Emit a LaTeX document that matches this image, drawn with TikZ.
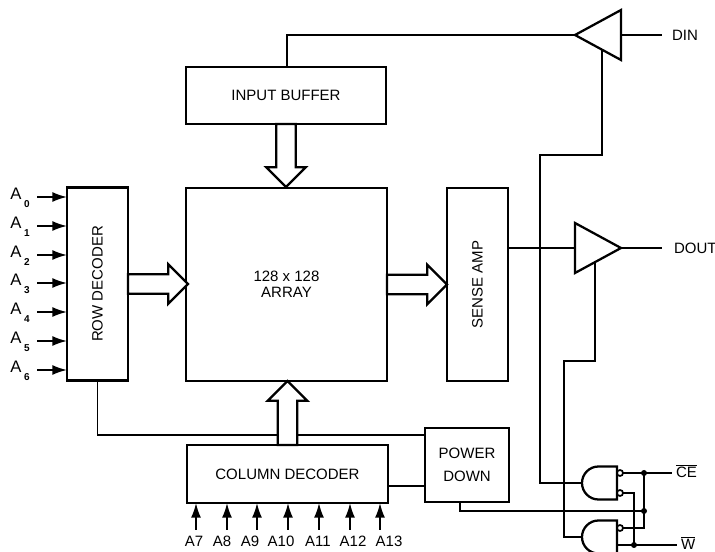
\documentclass[tikz,border=0pt]{standalone}
\usepackage{fontspec}
\usepackage{graphicx}
\setmainfont{Liberation Sans}
\usetikzlibrary{arrows.meta, shapes.geometric, shapes.arrows}

\begin{document}
\begin{tikzpicture}[x=0.75pt, y=-0.75pt, font=\fontsize{11.25}{12}\selectfont,
        box/.style={draw, line width=1.7pt, inner sep=0pt, outer sep=0pt, align=center},
        wire/.style={line width=1.3pt},
        sigarrow/.style={line width=1.3pt, -{Latex[length=11pt, width=7.5pt]}},
        fatarrow/.style={draw, fill=white, line width=1.7pt, shape=single arrow, anchor=tail,
                    inner xsep=0pt, inner ysep=6.5pt, outer sep=0pt,
                    single arrow head extend=7.5pt, single arrow tip angle=90,
                    single arrow head indent=0pt},
        bufgate/.style={draw, fill=white, line width=1.7pt, shape=isosceles triangle, anchor=apex,
                    isosceles triangle stretches, inner sep=0pt, outer sep=0pt,
                    minimum width=37.5pt, minimum height=34.5pt},
        nandgate/.pic={\draw[line width=1.7pt] (35,-16.5) -- (16.5,-16.5) arc (270:90:16.5) -- (35,16.5) -- cycle;
                    \coordinate (-out) at (0,0);},
        bubble/.style={draw, fill=white, circle, line width=1.3pt, inner sep=0pt, outer sep=0pt,
                    minimum size=4.5pt},
        pinlabel/.style={inner ysep=0pt, inner xsep=7.5pt, outer sep=0pt, anchor=west},
        dot/.style={circle, fill, inner sep=0pt, minimum size=4.5pt}]
      \useasboundingbox (0,0) rectangle (715,552);

      \node[box, minimum width=45.75pt, minimum height=144.75pt] (rowdec) at (97.5,284) {\rotatebox{90}{ROW DECODER}};
      \node[box, minimum width=150.75pt, minimum height=144.75pt] (array) at (286.5,284.5) {128 x 128\\ARRAY};
      \node[box, minimum width=150pt, minimum height=42.75pt] (inbuf) at (286,95.5) {INPUT BUFFER};
      \node[box, minimum width=45.75pt, minimum height=144.75pt] (sense) at (477.5,284.5) {\rotatebox{90}{SENSE AMP}};
      \node[box, minimum width=150.75pt, minimum height=43.5pt] (coldec) at (287.5,474) {COLUMN DECODER};
      \node[box, minimum width=63pt, minimum height=55.5pt, font=\fontsize{11.25}{17}\selectfont] (pwrdown) at (467,465) {POWER\\DOWN};

      \node[bufgate, shape border rotate=180] (dinbuf) at (575,35) {};
      \node[bufgate] (doutbuf) at (621,248) {};
      \node[pinlabel] (din) at (662,35) {DIN};
      \node[pinlabel, inner xsep=9pt] (dout) at (662,248) {DOUT};

      \pic (nandce) at (582,483) {nandgate};
      \pic (nandwe) at (582,537) {nandgate};
      \node[bubble] (ceba) at (620,473) {};
      \node[bubble] (cebb) at (620,493) {};
      \node[bubble] (weba) at (620,528) {};
      \node[pinlabel, inner xsep=3pt] (ce) at (672,471.5) {$\overline{\mbox{CE}}$};
      \node[pinlabel, inner xsep=3pt] (we) at (677,543) {$\overline{\mbox{W}}$};
      \node[dot] (cedot) at (644,473) {};
      \node[dot] (pddot) at (644,511) {};
      \node[dot] (wedot) at (634,545) {};
      \coordinate (wein) at (617,545);
      \coordinate (dintap) at (602,50);
      \coordinate (douttap) at (595,262);
      \coordinate (dinjog) at (540,155);
      \coordinate (doutjog) at (564,361);
      \coordinate (pwrin) at (425,435);
      \coordinate (pwrout) at (460,511);

      % wires
      \draw[wire] (inbuf.north -| 287,0) |- (dinbuf.apex);
      \draw[wire] (dinbuf.lower side) -- (din.west |- dinbuf.lower side);
      \draw[wire] (sense.east |- doutbuf.lower side) -- (doutbuf.lower side);
      \draw[wire] (doutbuf.apex) -- (dout.west);
      \draw[wire] (dintap) |- (dinjog) |- (nandce-out);
      \draw[wire] (douttap) |- (doutjog) |- (nandwe-out);
      \draw[wire] (rowdec.south) |- (pwrin);
      \draw[wire] (coldec.east |- 0,486) -- (pwrdown.west |- 0,486);
      \draw[wire] (pwrdown.south -| pwrout) -- (pwrout) -- (pddot.center);
      \draw[wire] (ceba) -- (ce.west |- ceba);
      \draw[wire] (wein) -- (we.west |- wein);
      \draw[wire] (cebb) -| (wedot.center);
      \draw[wire] (weba) -| (cedot.center);

      % fat arrows
      \node[fatarrow, minimum height=45pt] (rowarrow) at (rowdec.east) {};
      \node[fatarrow, minimum height=45pt] (arrayarrow) at (array.east) {};
      \node[fatarrow, minimum height=47.25pt, rotate=-90] (inarrow) at (inbuf.south) {};
      \node[fatarrow, minimum height=48pt, rotate=90] (colarrow) at (coldec.north) {};

      % address pins
      \foreach \i/\y in {0/197, 1/226, 2/255, 3/283, 4/312, 5/341, 6/370} {
        \node[anchor=base west, inner sep=0pt, font=\fontsize{12.5}{13}\selectfont] (a\i) at (10,\y+3) {A\raisebox{-6pt}{\hspace{2pt}\fontsize{7.5}{8}\selectfont\bfseries\i}};
        \coordinate (ap\i) at (37,\y);
        \draw[sigarrow] (ap\i) -- (ap\i -| rowdec.west);
      }
      \foreach \n/\x/\lx in {7/196/194, 8/227/222, 9/257/250, 10/288/281, 11/319/318, 12/350/353, 13/380/389} {
        \node[inner sep=0pt] (a\n) at (\lx,541) {A\n};
        \coordinate (ap\n) at (\x,530);
        \draw[sigarrow] (ap\n) -- (ap\n |- coldec.south);
      }
    \end{tikzpicture}
\end{document}
